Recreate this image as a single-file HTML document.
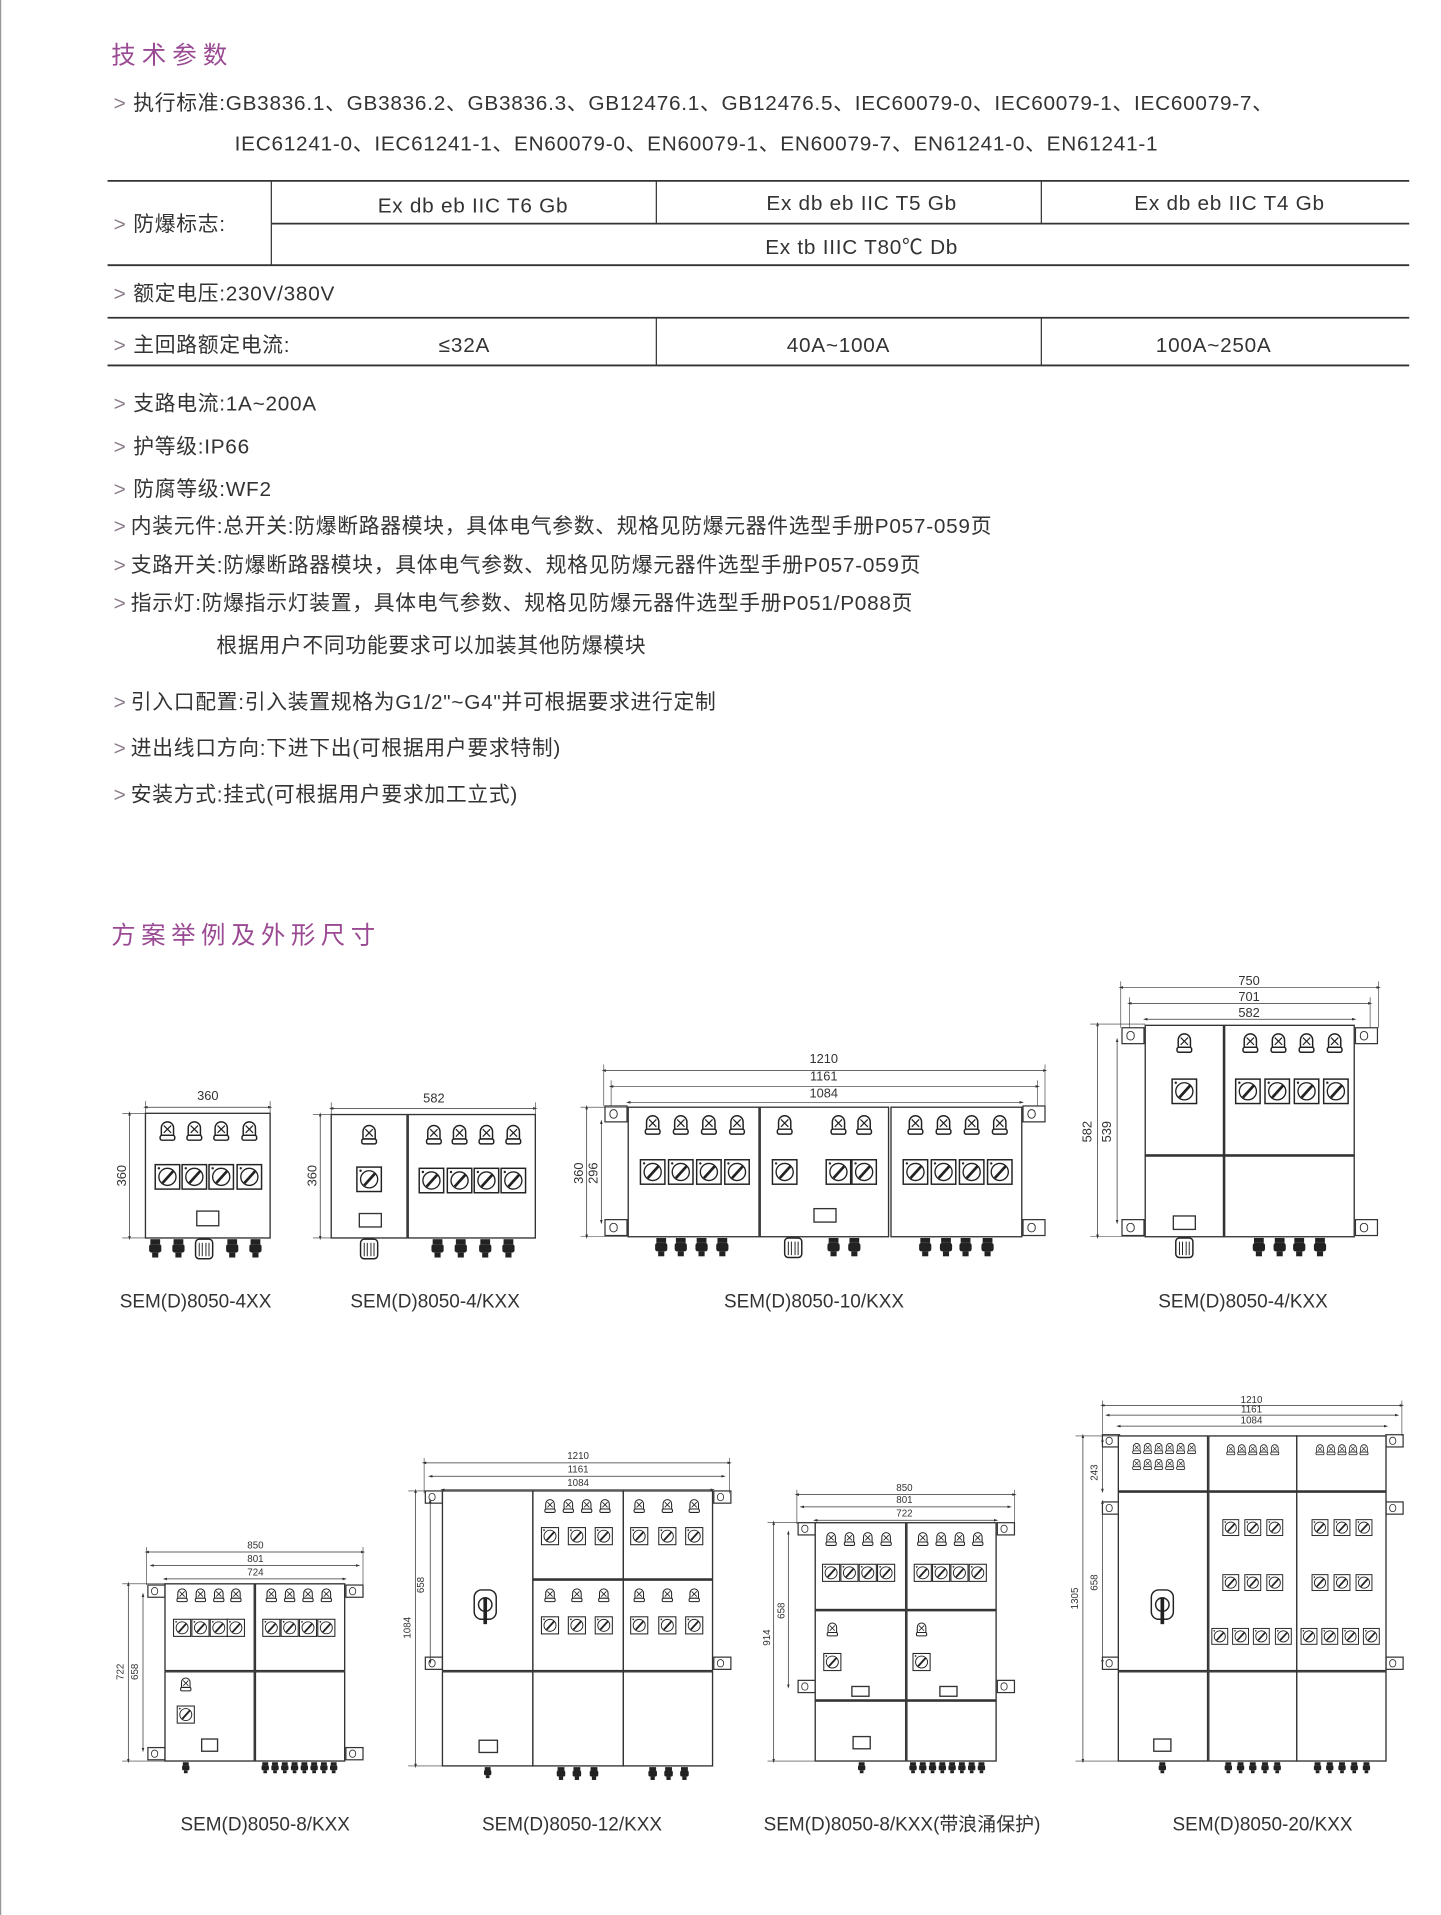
<!DOCTYPE html>
<html><head><meta charset="utf-8"><style>
html,body{margin:0;padding:0;background:#fff}
svg{display:block}
.t{font-family:"Liberation Sans","Noto Sans CJK SC",sans-serif;fill:#333}
.h{font-family:"Liberation Sans","Noto Sans CJK SC",sans-serif;fill:#9a4a93;font-size:20px;letter-spacing:5px}
.b{font-size:17px;letter-spacing:.6px}
.p{fill:#8a7a88}
.k{stroke:#333;stroke-width:1.3;fill:none}
.bx{stroke:#333;stroke-width:1.1;fill:#fff}
.d{stroke:#333;stroke-width:.6;marker-start:url(#a);marker-end:url(#a)}
.e{stroke:#333;stroke-width:.5}
.n{font-family:"Liberation Sans",sans-serif;fill:#333;font-size:10.5px;text-anchor:middle}
.s{font-size:8px}
.lb{font-family:"Liberation Sans","Noto Sans CJK SC",sans-serif;fill:#333;font-size:15.5px;text-anchor:middle}
</style></head><body>
<svg width="1441" height="1915" viewBox="0 0 1179 1567" preserveAspectRatio="none" xmlns="http://www.w3.org/2000/svg">
<defs>
<marker id="a" viewBox="0 0 10 10" refX="5" refY="5" markerWidth="6" markerHeight="6" orient="auto-start-reverse"><path d="M0,2 L10,5 L0,8 z" fill="#333"/></marker>
<g id="L"><path d="M-5,4 V-2 A5,5 0 0 1 5,-2 V4 z" fill="#fff" stroke="#222" stroke-width="1.2"/><path d="M-3,-4 L3,2 M3,-4 L-3,2" stroke="#222" stroke-width="1"/><rect x="-6" y="4" width="12" height="4" rx="1.5" fill="#fff" stroke="#222" stroke-width="1.2"/></g>
<g id="S"><rect x="-10" y="-10" width="20" height="20" fill="#fff" stroke="#222" stroke-width="1.2"/><circle r="7" fill="none" stroke="#222" stroke-width="1.1"/><path d="M-4,5 L5,-5" stroke="#222" stroke-width="2.2"/><circle cx="-7" cy="-7" r="1" fill="#222"/></g>
<g id="G"><rect x="-4" y="0" width="8" height="4" fill="#222"/><rect x="-5" y="4" width="10" height="7" rx="2" fill="#222"/><rect x="-2.5" y="11" width="5" height="4" fill="#222"/></g>
<g id="GB"><rect x="-7" y="0" width="14" height="16" rx="3" fill="#fff" stroke="#222" stroke-width="1.2"/><path d="M-4,3 V14 M-1.5,3 V14 M1.5,3 V14 M4,3 V14" stroke="#222" stroke-width=".8"/></g>
<g id="B"><rect x="0" y="0" width="18" height="13" fill="#fff" stroke="#333" stroke-width="1"/><rect x="4" y="3" width="6" height="7" rx="3" fill="none" stroke="#333" stroke-width=".8"/></g>
<g id="Bs"><rect x="0" y="0" width="14" height="10" fill="#fff" stroke="#333" stroke-width="1"/><rect x="3" y="2" width="5" height="6" rx="2.5" fill="none" stroke="#333" stroke-width=".7"/></g>
<g id="H"><rect x="-9" y="-12" width="18" height="24" rx="6" fill="#fff" stroke="#222" stroke-width="1.2"/><circle r="5.5" fill="none" stroke="#222" stroke-width="1.2"/><rect x="-1.5" y="-6" width="3" height="22" fill="#222"/></g>
</defs>
<rect width="1179" height="1567" fill="#fff"/>
<line x1="0.5" y1="0" x2="0.5" y2="1567" stroke="#999" stroke-width="1"/>

<text class="h" x="91" y="52">技术参数</text>
<g class="t b">
<text x="93" y="90"><tspan class="p">&gt;</tspan><tspan x="109">执行标准:GB3836.1、GB3836.2、GB3836.3、GB12476.1、GB12476.5、IEC60079-0、IEC60079-1、IEC60079-7、</tspan></text>
<text x="192" y="123">IEC61241-0、IEC61241-1、EN60079-0、EN60079-1、EN60079-7、EN61241-0、EN61241-1</text>
<text x="93" y="189"><tspan class="p">&gt;</tspan><tspan x="109">防爆标志:</tspan></text>
<text x="387" y="174" text-anchor="middle">Ex db eb IIC T6 Gb</text>
<text x="705" y="172" text-anchor="middle">Ex db eb IIC T5 Gb</text>
<text x="1006" y="172" text-anchor="middle">Ex db eb IIC T4 Gb</text>
<text x="705" y="208" text-anchor="middle">Ex tb IIIC T80℃ Db</text>
<text x="93" y="246"><tspan class="p">&gt;</tspan><tspan x="109">额定电压:230V/380V</tspan></text>
<text x="93" y="288"><tspan class="p">&gt;</tspan><tspan x="109">主回路额定电流:</tspan></text>
<text x="380" y="288" text-anchor="middle">≤32A</text>
<text x="686" y="288" text-anchor="middle">40A~100A</text>
<text x="993" y="288" text-anchor="middle">100A~250A</text>
<text x="93" y="336"><tspan class="p">&gt;</tspan><tspan x="109">支路电流:1A~200A</tspan></text>
<text x="93" y="371"><tspan class="p">&gt;</tspan><tspan x="109">护等级:IP66</tspan></text>
<text x="93" y="406"><tspan class="p">&gt;</tspan><tspan x="109">防腐等级:WF2</tspan></text>
<text x="93" y="436"><tspan class="p">&gt;</tspan><tspan x="107">内装元件:总开关:防爆断路器模块，具体电气参数、规格见防爆元器件选型手册P057-059页</tspan></text>
<text x="93" y="468"><tspan class="p">&gt;</tspan><tspan x="107">支路开关:防爆断路器模块，具体电气参数、规格见防爆元器件选型手册P057-059页</tspan></text>
<text x="93" y="499"><tspan class="p">&gt;</tspan><tspan x="107">指示灯:防爆指示灯装置，具体电气参数、规格见防爆元器件选型手册P051/P088页</tspan></text>
<text x="177" y="534">根据用户不同功能要求可以加装其他防爆模块</text>
<text x="93" y="580"><tspan class="p">&gt;</tspan><tspan x="107">引入口配置:引入装置规格为G1/2"~G4"并可根据要求进行定制</tspan></text>
<text x="93" y="618"><tspan class="p">&gt;</tspan><tspan x="107">进出线口方向:下进下出(可根据用户要求特制)</tspan></text>
<text x="93" y="656"><tspan class="p">&gt;</tspan><tspan x="107">安装方式:挂式(可根据用户要求加工立式)</tspan></text>
</g>
<g stroke="#333" stroke-width="1.5">
<line x1="88" y1="148" x2="1153" y2="148"/><line x1="222" y1="183" x2="1153" y2="183"/><line x1="88" y1="217" x2="1153" y2="217"/>
<line x1="222" y1="148" x2="222" y2="217" stroke-width="1"/><line x1="537" y1="148" x2="537" y2="183" stroke-width="1"/><line x1="852" y1="148" x2="852" y2="183" stroke-width="1"/>
<line x1="88" y1="260" x2="1153" y2="260"/><line x1="88" y1="299" x2="1153" y2="299"/>
<line x1="537" y1="260" x2="537" y2="299" stroke-width="1"/><line x1="852" y1="260" x2="852" y2="299" stroke-width="1"/>
</g>
<text class="h" x="91" y="772" style="letter-spacing:4.5px">方案举例及外形尺寸</text>

<!-- D1 -->
<rect class="bx" x="119" y="911" width="102" height="102"/>
<line class="d" x1="119" y1="906" x2="221" y2="906"/><line class="e" x1="119" y1="901" x2="119" y2="911"/><line class="e" x1="221" y1="901" x2="221" y2="911"/>
<text class="n" x="170" y="900">360</text>
<line class="d" x1="106" y1="911" x2="106" y2="1013"/><line class="e" x1="100" y1="911" x2="119" y2="911"/><line class="e" x1="100" y1="1013" x2="119" y2="1013"/>
<text class="n" transform="translate(103,962) rotate(-90)">360</text>
<use href="#L" x="137" y="925"/><use href="#L" x="159" y="925"/><use href="#L" x="181" y="925"/><use href="#L" x="204" y="925"/>
<use href="#S" x="137" y="963"/><use href="#S" x="159" y="963"/><use href="#S" x="181" y="963"/><use href="#S" x="204" y="963"/>
<rect class="bx" x="161" y="991" width="18" height="12"/>
<use href="#G" x="127" y="1014"/><use href="#G" x="146" y="1014"/><use href="#GB" x="167" y="1014"/><use href="#G" x="190" y="1014"/><use href="#G" x="209" y="1014"/>
<text class="lb" x="160" y="1070">SEM(D)8050-4XX</text>

<!-- D2 -->
<rect class="bx" x="271" y="912" width="62" height="101"/><rect class="bx" x="334" y="912" width="104" height="101"/>
<line class="d" x1="271" y1="907" x2="438" y2="907"/><line class="e" x1="271" y1="902" x2="271" y2="912"/><line class="e" x1="438" y1="902" x2="438" y2="912"/>
<text class="n" x="355" y="902">582</text>
<line class="d" x1="262" y1="912" x2="262" y2="1013"/><line class="e" x1="256" y1="912" x2="271" y2="912"/><line class="e" x1="256" y1="1013" x2="271" y2="1013"/>
<text class="n" transform="translate(259,962) rotate(-90)">360</text>
<use href="#L" x="302" y="928"/><use href="#S" x="302" y="965"/><rect class="bx" x="294" y="993" width="18" height="11"/>
<use href="#L" x="355" y="928"/><use href="#L" x="376" y="928"/><use href="#L" x="398" y="928"/><use href="#L" x="420" y="928"/>
<use href="#S" x="353" y="966"/><use href="#S" x="376" y="966"/><use href="#S" x="398" y="966"/><use href="#S" x="420" y="966"/>
<use href="#GB" x="302" y="1014"/><use href="#G" x="358" y="1014"/><use href="#G" x="377" y="1014"/><use href="#G" x="397" y="1014"/><use href="#G" x="416" y="1014"/>
<text class="lb" x="356" y="1070">SEM(D)8050-4/KXX</text>

<!-- D3 -->
<use href="#B" x="495" y="905"/><use href="#B" x="495" y="998"/><use href="#B" x="837" y="905"/><use href="#B" x="837" y="998"/>
<rect class="bx" x="514" y="906" width="107" height="106"/><rect class="bx" x="622" y="906" width="105" height="106"/><rect class="bx" x="729" y="906" width="107" height="106"/>
<line class="d" x1="494" y1="876" x2="855" y2="876"/><line class="d" x1="500" y1="889" x2="849" y2="889"/><line class="d" x1="514" y1="902" x2="836" y2="902"/>
<line class="e" x1="494" y1="871" x2="494" y2="905"/><line class="e" x1="855" y1="871" x2="855" y2="905"/><line class="e" x1="500" y1="884" x2="500" y2="905"/><line class="e" x1="849" y1="884" x2="849" y2="905"/>
<text class="n" x="674" y="870">1210</text><text class="n" x="674" y="884">1161</text><text class="n" x="674" y="898">1084</text>
<line class="d" x1="480" y1="906" x2="480" y2="1012"/><line class="d" x1="492" y1="918" x2="492" y2="1000"/>
<line class="e" x1="475" y1="906" x2="514" y2="906"/><line class="e" x1="475" y1="1012" x2="514" y2="1012"/>
<text class="n" transform="translate(477,960) rotate(-90)">360</text><text class="n" transform="translate(489,960) rotate(-90)">296</text>
<use href="#L" x="534" y="920"/><use href="#L" x="557" y="920"/><use href="#L" x="580" y="920"/><use href="#L" x="603" y="920"/>
<use href="#S" x="534" y="959"/><use href="#S" x="557" y="959"/><use href="#S" x="580" y="959"/><use href="#S" x="603" y="959"/>
<use href="#L" x="642" y="920"/><use href="#L" x="686" y="920"/><use href="#L" x="707" y="920"/>
<use href="#S" x="642" y="959"/><use href="#S" x="686" y="959"/><use href="#S" x="707" y="959"/>
<rect class="bx" x="666" y="989" width="18" height="11"/>
<use href="#L" x="749" y="920"/><use href="#L" x="772" y="920"/><use href="#L" x="795" y="920"/><use href="#L" x="818" y="920"/>
<use href="#S" x="749" y="959"/><use href="#S" x="772" y="959"/><use href="#S" x="795" y="959"/><use href="#S" x="818" y="959"/>
<use href="#G" x="541" y="1013"/><use href="#G" x="557" y="1013"/><use href="#G" x="574" y="1013"/><use href="#G" x="591" y="1013"/>
<use href="#GB" x="649" y="1013"/><use href="#G" x="682" y="1013"/><use href="#G" x="699" y="1013"/>
<use href="#G" x="757" y="1013"/><use href="#G" x="774" y="1013"/><use href="#G" x="790" y="1013"/><use href="#G" x="808" y="1013"/>
<text class="lb" x="666" y="1070">SEM(D)8050-10/KXX</text>

<!-- D4 -->
<use href="#B" x="918" y="841"/><use href="#B" x="918" y="998"/><use href="#B" x="1109" y="841"/><use href="#B" x="1109" y="998"/>
<rect class="bx" x="937" y="839" width="64" height="106"/><rect class="bx" x="1002" y="839" width="106" height="106"/>
<rect class="bx" x="937" y="946" width="64" height="66"/><rect class="bx" x="1002" y="946" width="106" height="66"/>
<line class="d" x1="917" y1="808" x2="1128" y2="808"/><line class="d" x1="924" y1="821" x2="1121" y2="821"/><line class="d" x1="937" y1="834" x2="1108" y2="834"/>
<line class="e" x1="917" y1="803" x2="917" y2="841"/><line class="e" x1="1128" y1="803" x2="1128" y2="841"/><line class="e" x1="924" y1="816" x2="924" y2="841"/><line class="e" x1="1121" y1="816" x2="1121" y2="841"/>
<text class="n" x="1022" y="806">750</text><text class="n" x="1022" y="819">701</text><text class="n" x="1022" y="832">582</text>
<line class="d" x1="898" y1="838" x2="898" y2="1012"/><line class="d" x1="914" y1="851" x2="914" y2="1000"/>
<line class="e" x1="892" y1="838" x2="937" y2="838"/><line class="e" x1="892" y1="1012" x2="937" y2="1012"/>
<text class="n" transform="translate(893,926) rotate(-90)">582</text><text class="n" transform="translate(909,926) rotate(-90)">539</text>
<use href="#L" x="969" y="853"/><use href="#S" x="969" y="893"/>
<use href="#L" x="1023" y="853"/><use href="#L" x="1046" y="853"/><use href="#L" x="1069" y="853"/><use href="#L" x="1092" y="853"/>
<use href="#S" x="1021" y="893"/><use href="#S" x="1045" y="893"/><use href="#S" x="1069" y="893"/><use href="#S" x="1093" y="893"/>
<rect class="bx" x="960" y="995" width="18" height="11"/>
<use href="#GB" x="969" y="1013"/><use href="#G" x="1030" y="1013"/><use href="#G" x="1047" y="1013"/><use href="#G" x="1063" y="1013"/><use href="#G" x="1080" y="1013"/>
<text class="lb" x="1017" y="1070">SEM(D)8050-4/KXX</text>

<!-- D5 -->
<use href="#Bs" x="121" y="1297"/><use href="#Bs" x="121" y="1430"/><use href="#Bs" x="283" y="1297"/><use href="#Bs" x="283" y="1430"/>
<rect class="bx" x="135" y="1296" width="73" height="71"/><rect class="bx" x="209" y="1296" width="73" height="71"/>
<rect class="bx" x="135" y="1368" width="73" height="73"/><rect class="bx" x="209" y="1368" width="73" height="73"/>
<line class="d" x1="120" y1="1270" x2="297" y2="1270"/><line class="d" x1="124" y1="1281" x2="293" y2="1281"/><line class="d" x1="135" y1="1292" x2="282" y2="1292"/>
<line class="e" x1="120" y1="1266" x2="120" y2="1297"/><line class="e" x1="297" y1="1266" x2="297" y2="1297"/>
<text class="n s" x="209" y="1267">850</text><text class="n s" x="209" y="1278">801</text><text class="n s" x="209" y="1289">724</text>
<line class="d" x1="105" y1="1296" x2="105" y2="1441"/><line class="d" x1="117" y1="1305" x2="117" y2="1432"/>
<line class="e" x1="100" y1="1296" x2="135" y2="1296"/><line class="e" x1="100" y1="1441" x2="135" y2="1441"/>
<text class="n s" transform="translate(101,1368) rotate(-90)">722</text><text class="n s" transform="translate(113,1368) rotate(-90)">658</text>
<use href="#L" transform="translate(149,1305) scale(.7)"/><use href="#L" transform="translate(164,1305) scale(.7)"/><use href="#L" transform="translate(179,1305) scale(.7)"/><use href="#L" transform="translate(193,1305) scale(.7)"/>
<use href="#L" transform="translate(222,1305) scale(.7)"/><use href="#L" transform="translate(237,1305) scale(.7)"/><use href="#L" transform="translate(252,1305) scale(.7)"/><use href="#L" transform="translate(267,1305) scale(.7)"/>
<use href="#S" transform="translate(149,1332) scale(.7)"/><use href="#S" transform="translate(164,1332) scale(.7)"/><use href="#S" transform="translate(179,1332) scale(.7)"/><use href="#S" transform="translate(193,1332) scale(.7)"/>
<use href="#S" transform="translate(222,1332) scale(.7)"/><use href="#S" transform="translate(237,1332) scale(.7)"/><use href="#S" transform="translate(252,1332) scale(.7)"/><use href="#S" transform="translate(267,1332) scale(.7)"/>
<use href="#L" transform="translate(152,1378) scale(.7)"/><use href="#S" transform="translate(152,1403) scale(.7)"/>
<rect class="bx" x="165" y="1423" width="13" height="10"/>
<use href="#G" transform="translate(152,1442) scale(.6)"/>
<use href="#G" transform="translate(217,1442) scale(.6)"/><use href="#G" transform="translate(225,1442) scale(.6)"/><use href="#G" transform="translate(233,1442) scale(.6)"/><use href="#G" transform="translate(241,1442) scale(.6)"/><use href="#G" transform="translate(249,1442) scale(.6)"/><use href="#G" transform="translate(257,1442) scale(.6)"/><use href="#G" transform="translate(265,1442) scale(.6)"/><use href="#G" transform="translate(273,1442) scale(.6)"/>
<text class="lb" x="217" y="1498">SEM(D)8050-8/KXX</text>

<!-- D6 -->
<use href="#Bs" x="348" y="1220"/><use href="#Bs" x="348" y="1356"/><use href="#Bs" x="584" y="1220"/><use href="#Bs" x="584" y="1356"/>
<rect class="bx" x="362" y="1220" width="74" height="147"/>
<rect class="bx" x="436" y="1220" width="74" height="72"/><rect class="bx" x="510" y="1220" width="73" height="72"/>
<rect class="bx" x="436" y="1293" width="74" height="74"/><rect class="bx" x="510" y="1293" width="73" height="74"/>
<rect class="bx" x="362" y="1368" width="74" height="77"/><rect class="bx" x="436" y="1368" width="74" height="77"/><rect class="bx" x="510" y="1368" width="73" height="77"/>
<line class="d" x1="347" y1="1197" x2="597" y2="1197"/><line class="d" x1="352" y1="1208" x2="592" y2="1208"/><line class="d" x1="362" y1="1219" x2="583" y2="1219"/>
<line class="e" x1="347" y1="1193" x2="347" y2="1222"/><line class="e" x1="597" y1="1193" x2="597" y2="1222"/>
<text class="n s" x="473" y="1194">1210</text><text class="n s" x="473" y="1205">1161</text><text class="n s" x="473" y="1216">1084</text>
<line class="d" x1="340" y1="1220" x2="340" y2="1445"/><line class="d" x1="352" y1="1228" x2="352" y2="1360"/>
<line class="e" x1="334" y1="1220" x2="362" y2="1220"/><line class="e" x1="334" y1="1445" x2="362" y2="1445"/>
<text class="n s" transform="translate(336,1332) rotate(-90)">1084</text><text class="n s" transform="translate(347,1297) rotate(-90)">658</text>
<use href="#H" x="397" y="1313"/>
<use href="#L" transform="translate(450,1232) scale(.7)"/><use href="#L" transform="translate(465,1232) scale(.7)"/><use href="#L" transform="translate(480,1232) scale(.7)"/><use href="#L" transform="translate(495,1232) scale(.7)"/>
<use href="#S" transform="translate(450,1257) scale(.7)"/><use href="#S" transform="translate(472,1257) scale(.7)"/><use href="#S" transform="translate(494,1257) scale(.7)"/>
<use href="#L" transform="translate(523,1232) scale(.7)"/><use href="#L" transform="translate(546,1232) scale(.7)"/><use href="#L" transform="translate(568,1232) scale(.7)"/>
<use href="#S" transform="translate(523,1257) scale(.7)"/><use href="#S" transform="translate(546,1257) scale(.7)"/><use href="#S" transform="translate(568,1257) scale(.7)"/>
<use href="#L" transform="translate(450,1305) scale(.7)"/><use href="#L" transform="translate(472,1305) scale(.7)"/><use href="#L" transform="translate(494,1305) scale(.7)"/>
<use href="#S" transform="translate(450,1330) scale(.7)"/><use href="#S" transform="translate(472,1330) scale(.7)"/><use href="#S" transform="translate(494,1330) scale(.7)"/>
<use href="#L" transform="translate(523,1305) scale(.7)"/><use href="#L" transform="translate(546,1305) scale(.7)"/><use href="#L" transform="translate(568,1305) scale(.7)"/>
<use href="#S" transform="translate(523,1330) scale(.7)"/><use href="#S" transform="translate(546,1330) scale(.7)"/><use href="#S" transform="translate(568,1330) scale(.7)"/>
<rect class="bx" x="392" y="1424" width="15" height="10"/>
<use href="#G" transform="translate(399,1446) scale(.6)"/>
<use href="#G" transform="translate(459,1446) scale(.7)"/><use href="#G" transform="translate(472,1446) scale(.7)"/><use href="#G" transform="translate(486,1446) scale(.7)"/>
<use href="#G" transform="translate(534,1446) scale(.7)"/><use href="#G" transform="translate(547,1446) scale(.7)"/><use href="#G" transform="translate(560,1446) scale(.7)"/>
<text class="lb" x="468" y="1498">SEM(D)8050-12/KXX</text>

<!-- D7 -->
<use href="#Bs" x="653" y="1246"/><use href="#Bs" x="653" y="1375"/><use href="#Bs" x="816" y="1246"/><use href="#Bs" x="816" y="1375"/>
<rect class="bx" x="667" y="1246" width="74" height="71"/><rect class="bx" x="742" y="1246" width="73" height="71"/>
<rect class="bx" x="667" y="1318" width="74" height="73"/><rect class="bx" x="742" y="1318" width="73" height="73"/>
<rect class="bx" x="667" y="1392" width="74" height="49"/><rect class="bx" x="742" y="1392" width="73" height="49"/>
<line class="d" x1="652" y1="1223" x2="830" y2="1223"/><line class="d" x1="656" y1="1233" x2="826" y2="1233"/><line class="d" x1="667" y1="1244" x2="815" y2="1244"/>
<line class="e" x1="652" y1="1219" x2="652" y2="1247"/><line class="e" x1="830" y1="1219" x2="830" y2="1247"/>
<text class="n s" x="740" y="1220">850</text><text class="n s" x="740" y="1230">801</text><text class="n s" x="740" y="1241">722</text>
<line class="d" x1="633" y1="1246" x2="633" y2="1441"/><line class="d" x1="645" y1="1254" x2="645" y2="1380"/>
<line class="e" x1="628" y1="1246" x2="667" y2="1246"/><line class="e" x1="628" y1="1441" x2="667" y2="1441"/>
<text class="n s" transform="translate(630,1340) rotate(-90)">914</text><text class="n s" transform="translate(642,1318) rotate(-90)">658</text>
<use href="#L" transform="translate(680,1259) scale(.7)"/><use href="#L" transform="translate(695,1259) scale(.7)"/><use href="#L" transform="translate(710,1259) scale(.7)"/><use href="#L" transform="translate(725,1259) scale(.7)"/>
<use href="#L" transform="translate(755,1259) scale(.7)"/><use href="#L" transform="translate(770,1259) scale(.7)"/><use href="#L" transform="translate(785,1259) scale(.7)"/><use href="#L" transform="translate(800,1259) scale(.7)"/>
<use href="#S" transform="translate(680,1287) scale(.7)"/><use href="#S" transform="translate(695,1287) scale(.7)"/><use href="#S" transform="translate(710,1287) scale(.7)"/><use href="#S" transform="translate(725,1287) scale(.7)"/>
<use href="#S" transform="translate(755,1287) scale(.7)"/><use href="#S" transform="translate(770,1287) scale(.7)"/><use href="#S" transform="translate(785,1287) scale(.7)"/><use href="#S" transform="translate(800,1287) scale(.7)"/>
<use href="#L" transform="translate(681,1333) scale(.7)"/><use href="#S" transform="translate(681,1360) scale(.7)"/>
<use href="#L" transform="translate(754,1333) scale(.7)"/><use href="#S" transform="translate(754,1360) scale(.7)"/>
<rect class="bx" x="697" y="1380" width="14" height="8"/><rect class="bx" x="769" y="1380" width="14" height="8"/>
<rect class="bx" x="698" y="1421" width="14" height="10"/>
<use href="#G" transform="translate(705,1442) scale(.6)"/>
<use href="#G" transform="translate(747,1442) scale(.6)"/><use href="#G" transform="translate(755,1442) scale(.6)"/><use href="#G" transform="translate(763,1442) scale(.6)"/><use href="#G" transform="translate(771,1442) scale(.6)"/><use href="#G" transform="translate(779,1442) scale(.6)"/><use href="#G" transform="translate(787,1442) scale(.6)"/><use href="#G" transform="translate(795,1442) scale(.6)"/><use href="#G" transform="translate(803,1442) scale(.6)"/>
<text class="lb" x="738" y="1498">SEM(D)8050-8/KXX(带浪涌保护)</text>

<!-- D8 -->
<use href="#Bs" x="902" y="1174"/><use href="#Bs" x="902" y="1229"/><use href="#Bs" x="902" y="1356"/>
<use href="#Bs" x="1134" y="1174"/><use href="#Bs" x="1134" y="1229"/><use href="#Bs" x="1134" y="1356"/>
<rect class="bx" x="915" y="1175" width="73" height="45"/><rect class="bx" x="989" y="1175" width="72" height="45"/><rect class="bx" x="1061" y="1175" width="73" height="45"/>
<rect class="bx" x="915" y="1221" width="73" height="146"/><rect class="bx" x="989" y="1221" width="72" height="146"/><rect class="bx" x="1061" y="1221" width="73" height="146"/>
<rect class="bx" x="915" y="1368" width="73" height="73"/><rect class="bx" x="989" y="1368" width="72" height="73"/><rect class="bx" x="1061" y="1368" width="73" height="73"/>
<line class="d" x1="902" y1="1150" x2="1147" y2="1150"/><line class="d" x1="906" y1="1158" x2="1143" y2="1158"/><line class="d" x1="915" y1="1167" x2="1134" y2="1167"/>
<line class="e" x1="902" y1="1146" x2="902" y2="1175"/><line class="e" x1="1147" y1="1146" x2="1147" y2="1175"/>
<text class="n s" x="1024" y="1148">1210</text><text class="n s" x="1024" y="1156">1161</text><text class="n s" x="1024" y="1165">1084</text>
<line class="d" x1="886" y1="1175" x2="886" y2="1441"/><line class="d" x1="902" y1="1229" x2="902" y2="1360"/><line class="d" x1="902" y1="1178" x2="902" y2="1220"/>
<line class="e" x1="880" y1="1175" x2="915" y2="1175"/><line class="e" x1="880" y1="1441" x2="915" y2="1441"/>
<text class="n s" transform="translate(882,1308) rotate(-90)">1305</text><text class="n s" transform="translate(898,1295) rotate(-90)">658</text><text class="n s" transform="translate(898,1205) rotate(-90)">243</text>
<use href="#L" transform="translate(930,1185) scale(.55)"/><use href="#L" transform="translate(939,1185) scale(.55)"/><use href="#L" transform="translate(948,1185) scale(.55)"/><use href="#L" transform="translate(957,1185) scale(.55)"/><use href="#L" transform="translate(966,1185) scale(.55)"/><use href="#L" transform="translate(975,1185) scale(.55)"/>
<use href="#L" transform="translate(930,1198) scale(.55)"/><use href="#L" transform="translate(939,1198) scale(.55)"/><use href="#L" transform="translate(948,1198) scale(.55)"/><use href="#L" transform="translate(957,1198) scale(.55)"/><use href="#L" transform="translate(966,1198) scale(.55)"/>
<use href="#L" transform="translate(1007,1186) scale(.55)"/><use href="#L" transform="translate(1016,1186) scale(.55)"/><use href="#L" transform="translate(1025,1186) scale(.55)"/><use href="#L" transform="translate(1034,1186) scale(.55)"/><use href="#L" transform="translate(1043,1186) scale(.55)"/>
<use href="#L" transform="translate(1080,1186) scale(.55)"/><use href="#L" transform="translate(1089,1186) scale(.55)"/><use href="#L" transform="translate(1098,1186) scale(.55)"/><use href="#L" transform="translate(1107,1186) scale(.55)"/><use href="#L" transform="translate(1116,1186) scale(.55)"/>
<use href="#H" x="951" y="1313"/>
<use href="#S" transform="translate(1007,1250) scale(.65)"/><use href="#S" transform="translate(1025,1250) scale(.65)"/><use href="#S" transform="translate(1043,1250) scale(.65)"/>
<use href="#S" transform="translate(1080,1250) scale(.65)"/><use href="#S" transform="translate(1098,1250) scale(.65)"/><use href="#S" transform="translate(1116,1250) scale(.65)"/>
<use href="#S" transform="translate(1007,1295) scale(.65)"/><use href="#S" transform="translate(1025,1295) scale(.65)"/><use href="#S" transform="translate(1043,1295) scale(.65)"/>
<use href="#S" transform="translate(1080,1295) scale(.65)"/><use href="#S" transform="translate(1098,1295) scale(.65)"/><use href="#S" transform="translate(1116,1295) scale(.65)"/>
<use href="#S" transform="translate(998,1339) scale(.65)"/><use href="#S" transform="translate(1015,1339) scale(.65)"/><use href="#S" transform="translate(1032,1339) scale(.65)"/><use href="#S" transform="translate(1050,1339) scale(.65)"/>
<use href="#S" transform="translate(1071,1339) scale(.65)"/><use href="#S" transform="translate(1088,1339) scale(.65)"/><use href="#S" transform="translate(1105,1339) scale(.65)"/><use href="#S" transform="translate(1122,1339) scale(.65)"/>
<rect class="bx" x="944" y="1423" width="14" height="10"/>
<use href="#G" transform="translate(951,1442) scale(.6)"/>
<use href="#G" transform="translate(1005,1442) scale(.6)"/><use href="#G" transform="translate(1015,1442) scale(.6)"/><use href="#G" transform="translate(1025,1442) scale(.6)"/><use href="#G" transform="translate(1035,1442) scale(.6)"/><use href="#G" transform="translate(1045,1442) scale(.6)"/>
<use href="#G" transform="translate(1078,1442) scale(.6)"/><use href="#G" transform="translate(1088,1442) scale(.6)"/><use href="#G" transform="translate(1098,1442) scale(.6)"/><use href="#G" transform="translate(1108,1442) scale(.6)"/><use href="#G" transform="translate(1118,1442) scale(.6)"/>
<text class="lb" x="1033" y="1498">SEM(D)8050-20/KXX</text>
</svg>
</body></html>
